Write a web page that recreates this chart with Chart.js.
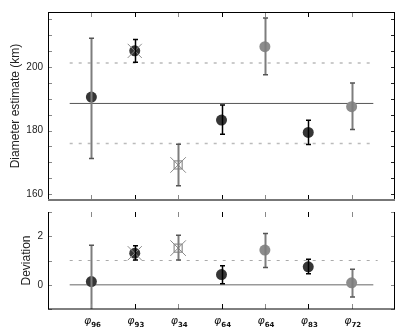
<!DOCTYPE html>
<html>
<head>
<meta charset="utf-8">
<script src="https://cdn.jsdelivr.net/npm/chart.js@4/dist/chart.umd.min.js"></script>
<style>
  body { margin: 0; background: #fff; width: 407px; height: 330px; position: relative; overflow: hidden; }
  canvas { position: absolute; left: 0; }
  #top { top: 0; }
  #bot { top: 200px; }
</style>
</head>
<body>
<canvas id="top" width="407" height="212" style="width:407px;height:212px"></canvas>
<canvas id="bot" width="407" height="130" style="width:407px;height:130px"></canvas>
<script>
// phase subscripts along the x axis
const labels = ['96', '93', '34', '64', '64', '83', '72'];

// diameter estimates (km) with error bar ends
const diam   = [190.5, 205.0, 169.2, 183.3, 206.3, 179.4, 187.5];
const diamHi = [209.0, 208.6, 175.7, 188.0, 215.3, 183.2, 194.9];
const diamLo = [171.2, 201.4, 162.7, 178.8, 197.5, 175.6, 180.3];
const diamMean = 188.5;
const diamBand = [175.9, 201.2];
const diamTickLabels = [160, 180, 200];

// deviation panel
const dev   = [0.13, 1.30, 1.51, 0.42, 1.43, 0.74, 0.08];
const devHi = [1.63, 1.61, 2.04, 0.78, 2.11, 1.05, 0.64];
const devLo = [-1.37, 1.02, 1.02, 0.04, 0.71, 0.45, -0.50];
const devZero = 0;
const devOne = 1;
const devTickLabels = [0, 2];

// marker type per point
const kind = ['dark', 'darkX', 'square', 'dark', 'gray', 'dark', 'gray'];

const DARK = '#363636', GRAY = '#8c8c8c';
const isGrayBar = i => i % 2 === 0;

Chart.defaults.font.family = '"Liberation Sans", Arial, sans-serif';
Chart.defaults.color = '#222';

function hline(y, x0, x1, color, width, dash) {
  return {
    type: 'line', order: 5,
    data: [{ x: x0, y: y }, { x: x1, y: y }],
    borderColor: color, borderWidth: width, borderDash: dash || [],
    pointRadius: 0, fill: false
  };
}

function markerSets(vals) {
  const pts = vals.map((v, i) => ({ x: i + 1, y: v }));
  const crossed = pts.filter((p, i) => kind[i] === 'darkX' || kind[i] === 'square');
  return [
    {
      type: 'scatter', order: 2,
      data: pts,
      pointStyle: kind.map(k => k === 'square' ? 'rect' : 'circle'),
      pointRadius: kind.map(k => k === 'square' ? 5.7 : 5.5),
      pointBackgroundColor: kind.map(k => k === 'square' ? 'rgba(0,0,0,0)' : (k === 'gray' ? GRAY : DARK)),
      pointBorderColor: kind.map(k => k === 'square' ? '#777' : (k === 'gray' ? GRAY : DARK)),
      pointBorderWidth: kind.map(k => k === 'square' ? 1 : 0)
    },
    {
      type: 'scatter', order: 1,
      data: crossed,
      pointStyle: 'crossRot',
      pointRadius: crossed.map(p => kind[p.x - 1] === 'square' ? 11 : 10),
      pointBorderColor: '#8a8a8a',
      pointBorderWidth: 1
    }
  ];
}

function panelPlugin(hi, lo, opts) {
  return {
    id: 'panel',
    afterDatasetsDraw(chart) {
      const { ctx, chartArea: a, scales: { x, y } } = chart;
      ctx.save();
      ctx.beginPath();
      ctx.rect(a.left, a.top, a.right - a.left, a.bottom - a.top);
      ctx.clip();
      hi.forEach((h, i) => {
        const px = Math.round(x.getPixelForValue(i + 1)) + 0.5;
        const y1 = y.getPixelForValue(h), y2 = y.getPixelForValue(lo[i]);
        const g = isGrayBar(i);
        ctx.strokeStyle = g ? '#7d7d7d' : '#000';
        ctx.lineWidth = g ? 2 : 1.5;
        ctx.beginPath(); ctx.moveTo(px, y1); ctx.lineTo(px, y2); ctx.stroke();
        ctx.strokeStyle = g ? '#555' : '#000';
        ctx.lineWidth = 1.5;
        ctx.beginPath();
        ctx.moveTo(px - 2.5, y1); ctx.lineTo(px + 2.5, y1);
        ctx.moveTo(px - 2.5, y2); ctx.lineTo(px + 2.5, y2);
        ctx.stroke();
      });
      ctx.restore();
    },
    afterDraw(chart) {
      const { ctx, chartArea: a, scales: { x, y } } = chart;
      ctx.save();
      // y ticks, inside on both sides
      ctx.lineWidth = 1;
      y.ticks.forEach(t => {
        const py = Math.round(y.getPixelForValue(t.value)) + 0.5;
        ctx.strokeStyle = '#888';
        ctx.beginPath(); ctx.moveTo(a.left, py); ctx.lineTo(a.left + 4, py); ctx.stroke();
        ctx.strokeStyle = opts.rightTick;
        ctx.beginPath(); ctx.moveTo(a.right, py); ctx.lineTo(a.right - 4, py); ctx.stroke();
      });
      // x ticks at each category, top and bottom
      labels.forEach((l, i) => {
        const px = Math.round(x.getPixelForValue(i + 1)) + 0.5;
        ctx.strokeStyle = isGrayBar(i) ? '#888' : '#000';
        ctx.beginPath();
        ctx.moveTo(px, a.top); ctx.lineTo(px, a.top + 5);
        ctx.moveTo(px, a.bottom); ctx.lineTo(px, a.bottom - 5);
        ctx.stroke();
      });
      // frame
      ctx.strokeStyle = '#000';
      ctx.lineWidth = 1;
      ctx.beginPath();
      if (opts.topEdge) { ctx.moveTo(a.left, a.top + 0.5); ctx.lineTo(a.right, a.top + 0.5); }
      ctx.moveTo(a.left + 0.5, a.top); ctx.lineTo(a.left + 0.5, a.bottom);
      ctx.moveTo(a.right - 0.5, a.top); ctx.lineTo(a.right - 0.5, a.bottom);
      ctx.stroke();
      ctx.strokeStyle = opts.bottomColor;
      ctx.lineWidth = opts.bottomWidth;
      ctx.beginPath(); ctx.moveTo(a.left, a.bottom); ctx.lineTo(a.right, a.bottom); ctx.stroke();
      // phase labels under the lower panel
      if (opts.xLabels) {
        labels.forEach((l, i) => {
          const px = x.getPixelForValue(i + 1);
          ctx.font = 'italic 11px "DejaVu Sans"';
          const w1 = ctx.measureText('φ').width;
          ctx.font = 'bold 7px "DejaVu Sans"';
          const w2 = ctx.measureText(l).width;
          const x0 = px - (w1 + w2) / 2 + 1;
          ctx.fillStyle = '#111';
          ctx.font = 'italic 11px "DejaVu Sans"';
          ctx.textBaseline = 'alphabetic';
          ctx.textAlign = 'left';
          ctx.fillText('φ', x0, a.bottom + 15);
          ctx.font = 'bold 7px "DejaVu Sans"';
          ctx.fillText(l, x0 + w1, a.bottom + 18);
        });
      }
      ctx.restore();
    }
  };
}

function yScale(min, max, step, shown, title, titlePad) {
  return {
    type: 'linear', min: min, max: max,
    grid: { display: false, drawTicks: false },
    border: { display: false },
    ticks: {
      stepSize: step, includeBounds: false, padding: 5,
      font: { size: 10 }, color: '#222',
      callback: v => shown.includes(v) ? String(v) : ''
    },
    title: { display: true, text: title, font: { size: 12 }, color: '#222', padding: { top: titlePad, bottom: 0 } },
    afterFit: s => { s.width = 48; }
  };
}

const xScale = { type: 'linear', min: 0, max: 8, display: false };

new Chart(document.getElementById('top'), {
  type: 'scatter',
  data: {
    datasets: [
      hline(diamMean, 0.5, 7.5, '#555', 1),
      hline(diamBand[0], 0.5, 7.45, '#bbb', 1.5, [3, 6]),
      hline(diamBand[1], 0.5, 7.45, '#bbb', 1.5, [3, 6]),
      ...markerSets(diam)
    ]
  },
  options: {
    responsive: false, animation: false,
    layout: { padding: { left: 0, right: 3, top: 5, bottom: 5 } },
    plugins: { legend: { display: false }, tooltip: { enabled: false } },
    scales: { x: xScale, y: yScale(158.2, 217.2, 5, diamTickLabels, 'Diameter estimate (km)', 8) }
  },
  plugins: [panelPlugin(diamHi, diamLo, { topEdge: true, bottomColor: '#777', bottomWidth: 2, rightTick: '#222', xLabels: false })]
});

new Chart(document.getElementById('bot'), {
  type: 'scatter',
  data: {
    datasets: [
      hline(devZero, 0.5, 7.5, '#999', 1.5),
      hline(devOne, 0.5, 7.6, '#aaa', 1, [3, 6]),
      ...markerSets(dev)
    ]
  },
  options: {
    responsive: false, animation: false,
    layout: { padding: { left: 0, right: 3, top: 7, bottom: 21 } },
    plugins: { legend: { display: false }, tooltip: { enabled: false } },
    scales: { x: xScale, y: yScale(-1, 3, 1, devTickLabels, 'Deviation', 19) }
  },
  plugins: [panelPlugin(devHi, devLo, { topEdge: false, bottomColor: '#000', bottomWidth: 1, rightTick: '#888', xLabels: true })]
});
</script>
</body>
</html>
